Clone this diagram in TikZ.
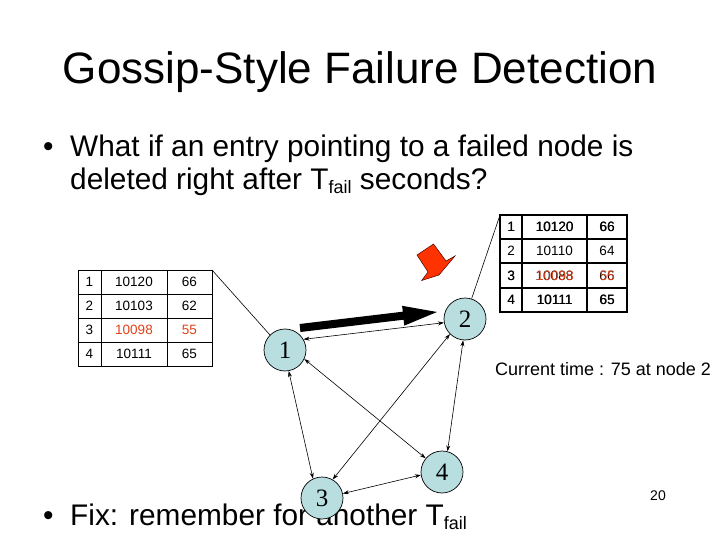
\documentclass[tikz,border=0pt]{standalone}
\usepackage{fontspec}
\setmainfont{Liberation Sans}
\newfontfamily\serifnum{Liberation Serif}
\usetikzlibrary{arrows.meta}
\definecolor{nodefill}{RGB}{185,222,224}
\definecolor{txtred}{RGB}{225,65,25}
\definecolor{arrred}{RGB}{255,51,0}
\tikzset{
  gnode/.style={circle,draw=black,line width=0.7pt,fill=nodefill,minimum size=42pt,inner sep=0pt,font=\serifnum\fontsize{25}{25}\selectfont},
  link/.style={line width=0.6pt,{Stealth[length=6pt,width=4pt]}-{Stealth[length=6pt,width=4pt]}},
  cell/.style={font=\fontsize{13.5}{13.5}\selectfont,inner sep=0pt,anchor=center},
  cellb/.style={font=\fontsize{13.5}{13.5}\selectfont,inner sep=0pt,anchor=center},
  bigtxt/.style={font=\fontsize{29.8}{29.8}\selectfont,anchor=base west,inner sep=0pt},
}
\begin{document}
\begin{tikzpicture}[x=1pt,y=-1pt]
\useasboundingbox (0,0) rectangle (720,540);
% title
\node[font=\fontsize{44}{44}\selectfont,anchor=base] (title) at (360,84) {Gossip-Style Failure Detection};
% bullets
\node[bigtxt] (b1) at (43,157) {\textbullet};
\node[bigtxt] (l1) at (70,157) {What if an entry pointing to a failed node is};
\node[bigtxt] (l2) at (70,190) {deleted right after T\raisebox{-4pt}{\fontsize{18}{18}\selectfont fail} seconds?};
\node[bigtxt] (b2) at (43,525) {\textbullet};
\node[bigtxt] (l3) at (70,525) {Fix: remember for another T\raisebox{-4pt}{\fontsize{18}{18}\selectfont fail}};
% page number
\node[font=\fontsize{14}{14}\selectfont,anchor=base] (pg) at (658,500) {20};
% current time
\node[font=\fontsize{18}{18}\selectfont,anchor=base west,inner sep=0pt] (ct) at (495,375) {Current time : 75 at node 2};

% left table
\draw[line width=0.6pt] (78,270) rectangle (212,366);
\foreach \yy in {294,318,342} \draw[line width=0.6pt] (78,\yy) -- (212,\yy);
\foreach \xx in {101,167} \draw[line width=0.6pt] (\xx,270) -- (\xx,366);
\node[cell] (la1) at (89.5,282) {1};
\node[cell] (lb1) at (134,282) {10120};
\node[cell] (lc1) at (189.5,282) {66};
\node[cell] (la2) at (89.5,306) {2};
\node[cell] (lb2) at (134,306) {10103};
\node[cell] (lc2) at (189.5,306) {62};
\node[cell] (la3) at (89.5,330) {3};
\node[cell,text=txtred] (lb3) at (134,330) {10098};
\node[cell,text=txtred] (lc3) at (189.5,330) {55};
\node[cell] (la4) at (89.5,354) {4};
\node[cell] (lb4) at (134,354) {10111};
\node[cell] (lc4) at (189.5,354) {65};

% right table
\draw[line width=1.6pt] (500,215) rectangle (627,312);
\foreach \yy in {239,263,288} \draw[line width=1.2pt] (500,\yy) -- (627,\yy);
\foreach \xx in {522,587} \draw[line width=1.2pt] (\xx,215) -- (\xx,312);
\foreach \dx in {0,0.3}{
\node[cellb] at (511+\dx,227) {1};
\node[cellb] at (554.5+\dx,227) {10120};
\node[cellb] at (607+\dx,227) {66};
\node[cellb] at (511+\dx,300) {4};
\node[cellb] at (554.5+\dx,300) {10111};
\node[cellb] at (607+\dx,300) {65};
}
\node[cellb] (ra2) at (511,251) {2};
\node[cellb] (rb2) at (554.5,251) {10110};
\node[cellb] (rc2) at (607,251) {64};
\node[cellb] at (511,275.5) {3};
\node[cellb] at (554.5,275.5) {10088};
\node[cellb] at (607,275.5) {66};
\node[cellb] (ra3) at (511.3,275.5) {3};
\node[cellb,text=txtred] (rb3) at (554.8,275.5) {10098};
\node[cellb,text=txtred] (rc3) at (607.3,275.5) {55};

% graph nodes
\node[gnode] (n1) at (285,350) {1};
\node[gnode] (n2) at (465,319) {2};
\node[gnode] (n3) at (322,498) {3};
\node[gnode] (n4) at (442,472) {4};
\coordinate (ltc) at (212,270);
\coordinate (rtc) at (500,215);
\draw[line width=0.6pt] (ltc) -- (n1.135);
\draw[line width=0.6pt] (rtc) -- (n2.72);

% connectors
\draw[link] (n1.30) -- (n2.190);
\draw[link] (n1.-80) -- (n3.115);
\draw[link] (n1.-25) -- (n4.140);
\draw[link] (n2.-135) -- (n3.60);
\draw[link] (n2.-95) -- (n4.75);
\draw[link] (n3.12) -- (n4.188);

% thick black arrow
\fill[black] (299.6,324) -- (402.8,311.7) -- (402.1,305.8) -- (437,312) -- (404.3,325.6) -- (403.6,319.7) -- (300.4,332) -- cycle;

% red arrow
\draw[fill=arrred,draw=black!70!red,line width=0.5pt,line join=miter]
  (417,255) -- (433.5,244) -- (446,261) -- (455,256) -- (439,275) -- (421.7,280.5) -- (428,272) -- cycle;
\end{tikzpicture}
\end{document}
